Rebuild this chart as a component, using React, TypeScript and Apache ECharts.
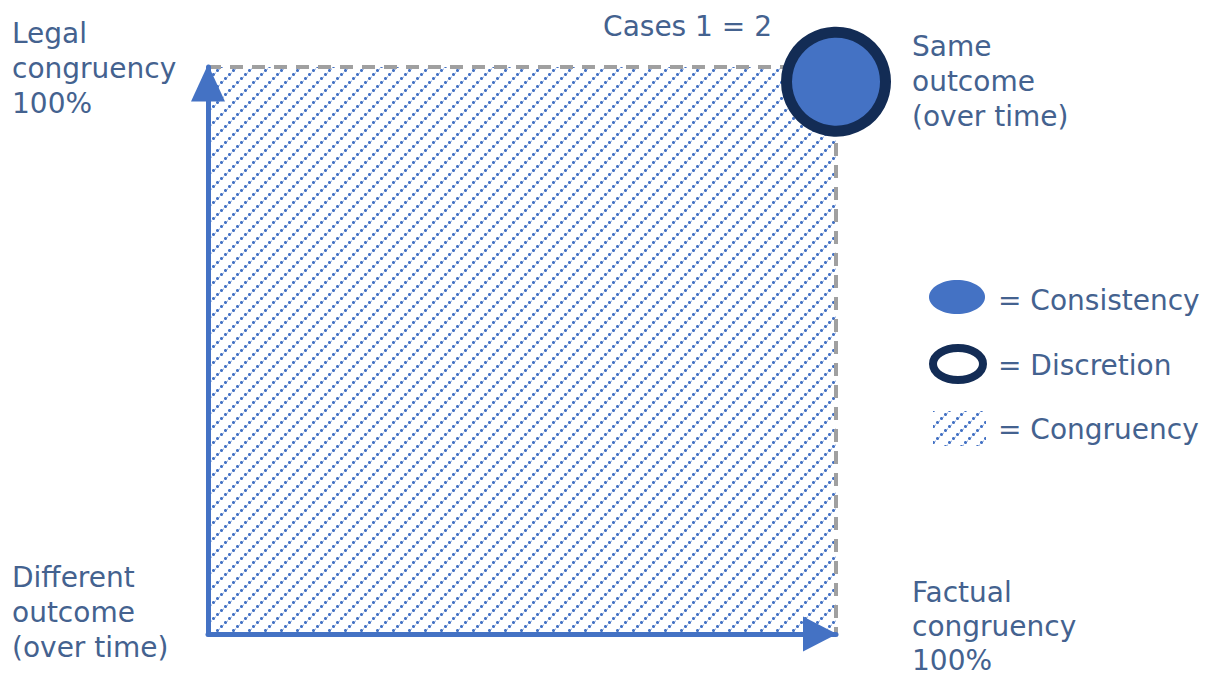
import React, { useEffect, useRef } from "react";
import * as echarts from "echarts";

// ---- data ----
const axisMin = 0;
const axisMax = 100;
// congruency area: [x0, y0, x1, y1]
const congruencyArea = [[0, 0, 100, 100]];
// cases point (Cases 1 = 2)
const casePoints = [[100, 97.4]];

const caseLabel = "Cases 1 = 2";
const topLeftLabel = ["Legal", "congruency", "100%"];
const topRightLabel = ["Same", "outcome", "(over time)"];
const bottomLeftLabel = ["Different", "outcome", "(over time)"];
const bottomRightLabel = ["Factual", "congruency", "100%"];
const legendLabels = ["= Consistency", "= Discretion", "= Congruency"];

const BLUE = "#4472C4";
const NAVY = "#132C55";
const TEXT = "#44628F";
const FONT = '"DejaVu Sans", sans-serif';
const TILE = 16;

function makePattern(): HTMLCanvasElement {
  const c = document.createElement("canvas");
  const n = TILE;
  c.width = n;
  c.height = n;
  const ctx = c.getContext("2d")!;
  ctx.fillStyle = "#ffffff";
  ctx.fillRect(0, 0, n, n);
  const put = (x: number, y: number, a: number) => {
    ctx.fillStyle = `rgba(68,114,196,${a})`;
    ctx.fillRect(((x % n) + n) % n, ((y % n) + n) % n, 1, 1);
  };
  for (let k = 0; k < 4; k++) {
    const x = k * 4;
    const y = n - 3 - k * 4;
    // 3x3 dot with soft corners
    for (let dx = 0; dx < 3; dx++) {
      for (let dy = 0; dy < 3; dy++) {
        const corner = (dx === 0 || dx === 2) && (dy === 0 || dy === 2);
        put(x + dx, y + dy, corner ? 0.6 : 1);
      }
    }
    // faint link toward next dot
    put(x + 3, y, 0.4);
    put(x + 3, y - 1, 0.25);
  }
  return c;
}

export default function App() {
  const ref = useRef<HTMLDivElement>(null);
  useEffect(() => {
    if (!ref.current) return;
    const chart = echarts.init(ref.current, undefined, { renderer: "svg" });
    const canvas = makePattern();
    const patternFill: any = { image: canvas, repeat: "repeat", imageWidth: TILE, imageHeight: TILE };
    const textStyle = (text: string | string[], lh = 35) => ({
      text: Array.isArray(text) ? text.join("\n") : text,
      font: `28px ${FONT}`,
      fill: TEXT,
      lineHeight: lh,
    });
    const option: any = {
      animation: false,
      grid: { left: 208, right: 376, top: 67, bottom: 43 },
      xAxis: {
        type: "value",
        min: axisMin,
        max: axisMax,
        z: 10,
        splitLine: { show: false },
        axisTick: { show: false },
        axisLabel: { show: false },
        axisLine: {
          show: true,
          symbol: ["none", "triangle"],
          symbolSize: [35, 34],
          symbolOffset: [0, -16],
          lineStyle: { color: BLUE, width: 5 },
        },
      },
      yAxis: {
        type: "value",
        min: axisMin,
        max: axisMax,
        z: 10,
        splitLine: { show: false },
        axisTick: { show: false },
        axisLabel: { show: false },
        axisLine: {
          show: true,
          symbol: ["none", "triangle"],
          symbolSize: [34, 37],
          symbolOffset: [0, -16],
          lineStyle: { color: BLUE, width: 5 },
        },
      },
      series: [
        {
          type: "custom",
          z: 1,
          data: congruencyArea,
          renderItem: (params: any, api: any) => {
            const p0 = api.coord([api.value(0), api.value(1)]);
            const p1 = api.coord([api.value(2), api.value(3)]);
            return {
              type: "group",
              children: [
                {
                  type: "rect",
                  shape: { x: p0[0], y: p1[1], width: p1[0] - p0[0], height: p0[1] - p1[1] },
                  style: { fill: patternFill },
                },
                {
                  type: "polyline",
                  shape: { points: [[p0[0], p1[1]], [p1[0], p1[1]], [p1[0], p0[1]]] },
                  style: { fill: "none", stroke: "#A0A0A0", lineWidth: 4, lineDash: [13, 9] },
                },
              ],
            };
          },
        },
        {
          type: "scatter",
          z: 20,
          data: casePoints,
          symbolSize: 99,
          itemStyle: { color: BLUE, borderColor: NAVY, borderWidth: 11, opacity: 1 },
          emphasis: { disabled: true },
        },
      ],
      graphic: [
        { type: "text", right: 1212 - 772, top: 9, style: textStyle(caseLabel) },
        { type: "text", left: 12, top: 15.5, style: textStyle(topLeftLabel) },
        { type: "text", left: 912, top: 28.5, style: textStyle(topRightLabel) },
        { type: "text", left: 12, top: 559.5, style: textStyle(bottomLeftLabel) },
        { type: "text", left: 912, top: 575, style: textStyle(bottomRightLabel, 34) },
        // legend
        { type: "ellipse", shape: { cx: 957, cy: 297, rx: 28, ry: 17 }, style: { fill: BLUE } },
        { type: "text", left: 998, top: 282.5, style: textStyle(legendLabels[0]) },
        {
          type: "ellipse",
          shape: { cx: 958, cy: 364, rx: 25, ry: 16 },
          style: { fill: "#ffffff", stroke: NAVY, lineWidth: 8 },
        },
        { type: "text", left: 998, top: 347.5, style: textStyle(legendLabels[1]) },
        { type: "rect", shape: { x: 933, y: 411, width: 53, height: 35 }, style: { fill: patternFill } },
        { type: "text", left: 998, top: 411.5, style: textStyle(legendLabels[2]) },
      ],
    };
    chart.setOption(option);
    return () => chart.dispose();
  }, []);
  return (
    <div
      ref={ref}
      style={{ position: "absolute", left: 0, top: 0, width: 1212, height: 677, background: "#ffffff" }}
    />
  );
}
